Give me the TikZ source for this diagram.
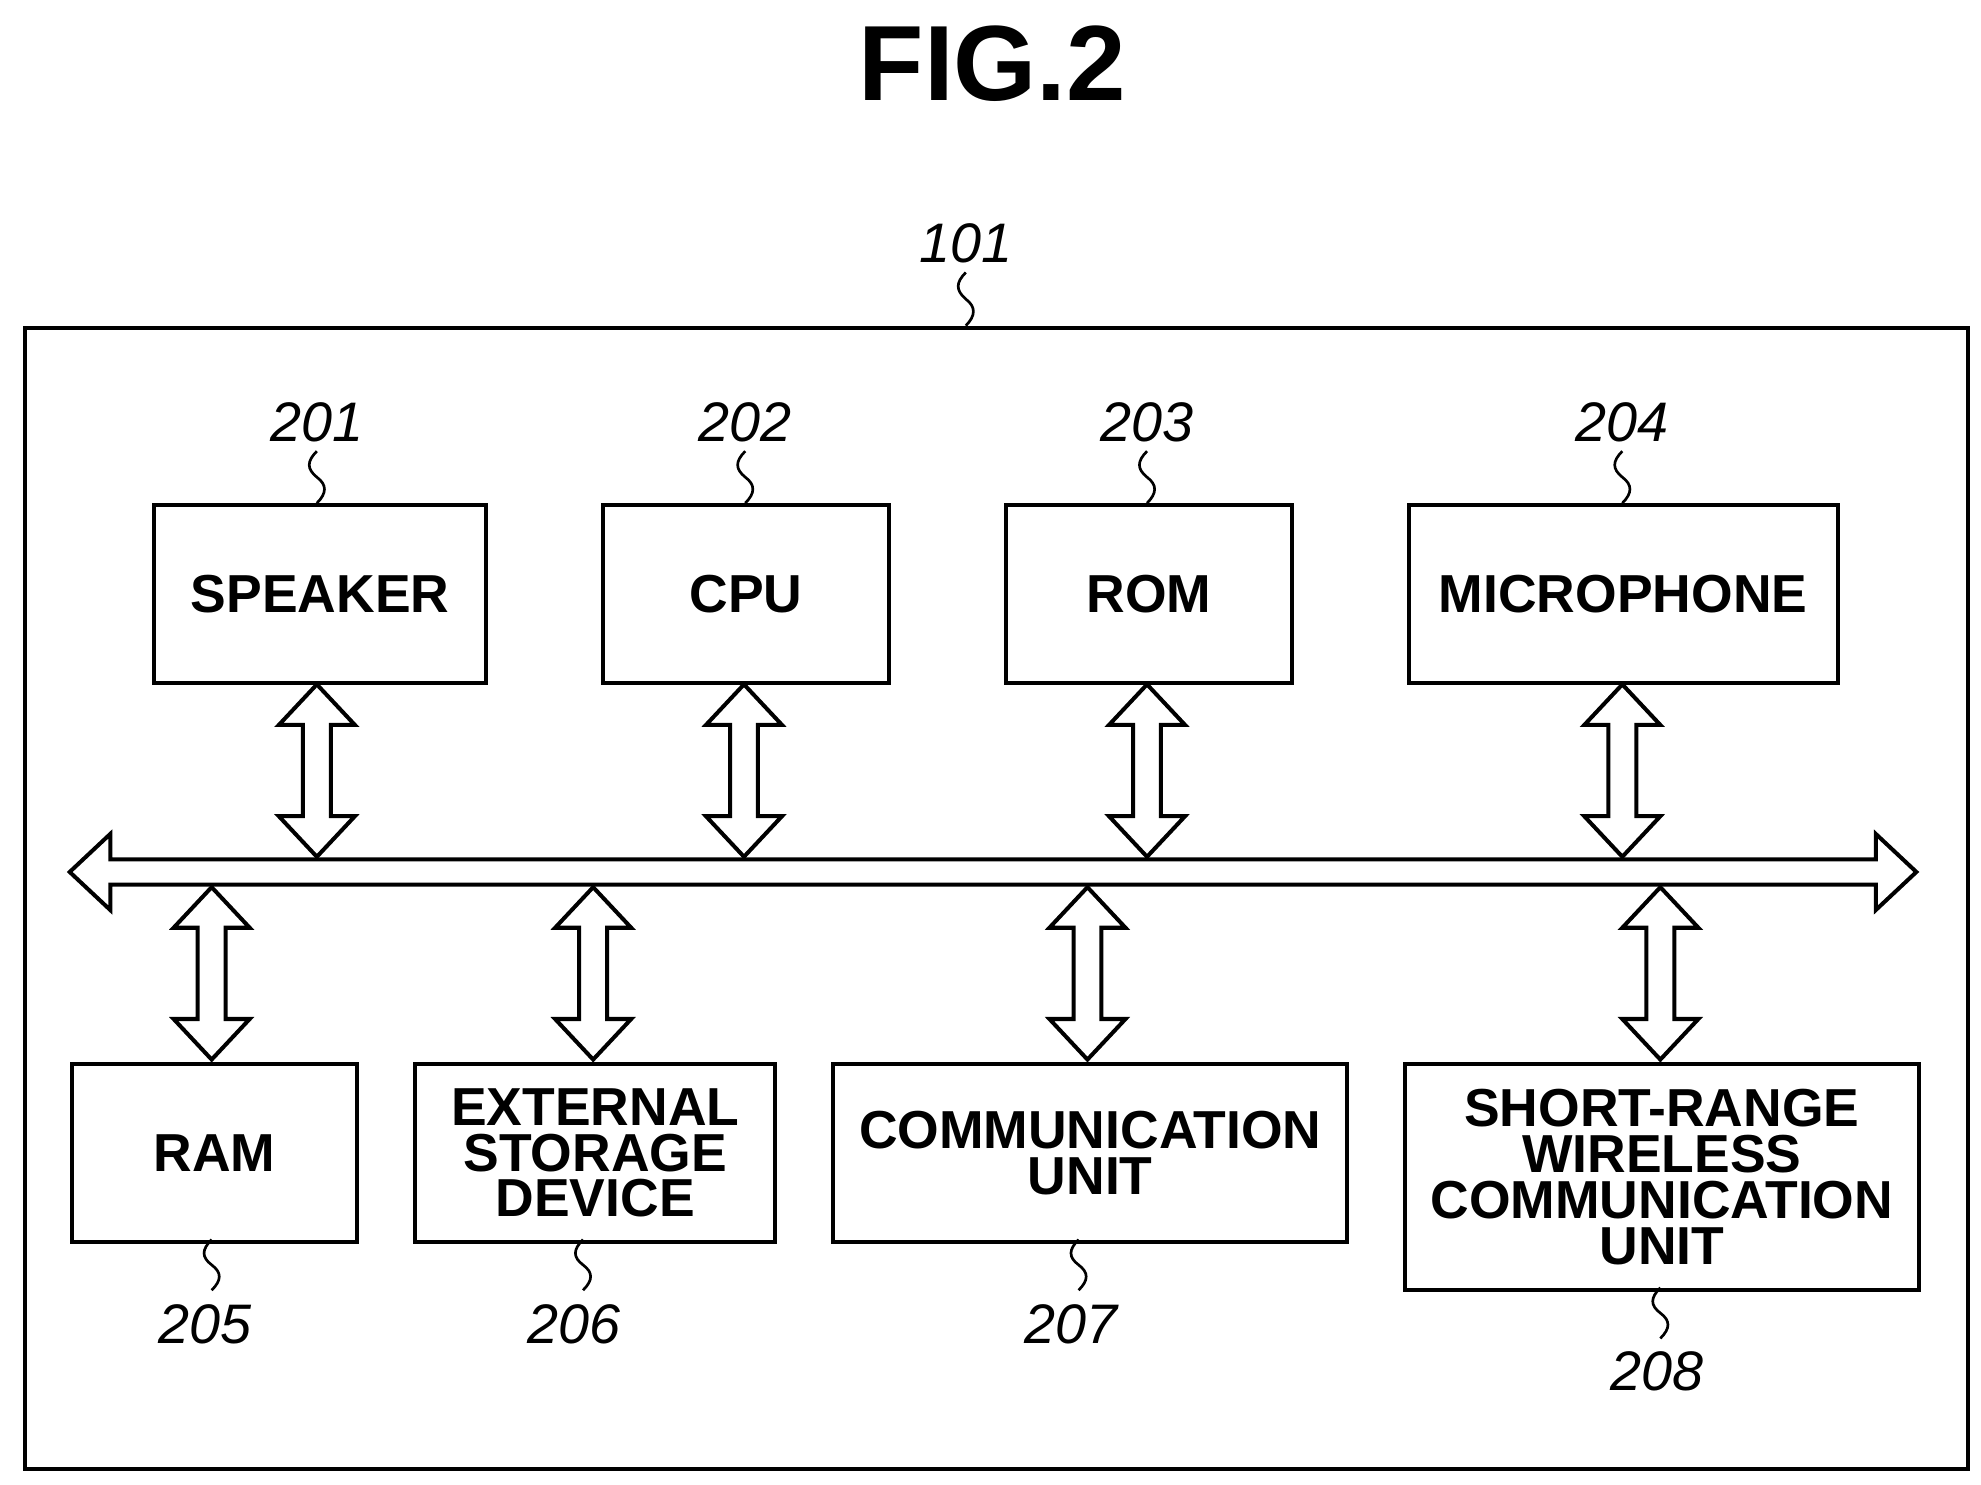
\documentclass[tikz,border=0pt]{standalone}
\usepackage{fontspec}
\setmainfont{Liberation Sans}
\begin{document}
\begin{tikzpicture}[x=0.01cm,y=-0.01cm,line width=0.9pt,
  box/.style={draw,inner sep=0pt,font=\bfseries\fontsize{12}{10.3}\selectfont,align=center},
  num/.style={font=\itshape\fontsize{12.5}{14}\selectfont},
  hol/.style={draw,fill=white,line width=0.9pt}]
\useasboundingbox (0,0) rectangle (1563,1171);
\newcommand\vdarr[3]{\draw[hol] ({#1},{#2})--({#1+30},{#2+32})--({#1+11},{#2+32})--({#1+11},{#3-32})--({#1+30},{#3-32})--({#1},{#3})--({#1-30},{#3-32})--({#1-11},{#3-32})--({#1-11},{#2+32})--({#1-30},{#2+32})--cycle;}
\newcommand\sq[3]{\draw[line width=0.6pt] ({#1},{#2}) .. controls ({#1-8},{#2+8}) and ({#1-8},{#2+14}) .. ({#1},{#2+0.5*(#3-#2)}) .. controls ({#1+8},{#2+0.5*(#3-#2)+6}) and ({#1+8},{#3-8}) .. ({#1},{#3});}
\node[font=\bfseries\fontsize{24}{26}\selectfont] (title) at (783,50) {FIG.2};
\node[draw,minimum width=15.32cm,minimum height=9cm,anchor=north west,inner sep=0pt] (outer) at (18,257) {};
\node[num] (n101) at (762,192) {101};
\sq{762}{215}{257}
% top boxes
\node[box,minimum width=2.62cm,minimum height=1.4cm,anchor=north west] (spk) at (120,397) {SPEAKER};
\node[box,minimum width=2.26cm,minimum height=1.4cm,anchor=north west] (cpu) at (474,397) {CPU};
\node[box,minimum width=2.26cm,minimum height=1.4cm,anchor=north west] (rom) at (792,397) {ROM};
\node[box,minimum width=3.38cm,minimum height=1.4cm,anchor=north west] (mic) at (1110,397) {MICROPHONE};
\node[num] (n201) at (250,333) {201}; \sq{250}{356}{397}
\node[num] (n202) at (588,333) {202}; \sq{588}{356}{397}
\node[num] (n203) at (905,333) {203}; \sq{905}{356}{397}
\node[num] (n204) at (1280,333) {204}; \sq{1280}{356}{397}
% bottom boxes
\node[box,minimum width=2.25cm,minimum height=1.4cm,anchor=north west] (ram) at (55,838) {RAM};
\node[box,minimum width=2.84cm,minimum height=1.4cm,anchor=north west] (ext) at (326,838) {EXTERNAL\\STORAGE\\DEVICE};
\node[box,minimum width=4.05cm,minimum height=1.4cm,anchor=north west] (com) at (656,838) {COMMUNICATION\\UNIT};
\node[box,minimum width=4.05cm,minimum height=1.78cm,anchor=north west] (srw) at (1107,838) {SHORT-RANGE\\WIRELESS\\COMMUNICATION\\UNIT};
\sq{167}{978}{1018} \node[num] (n205) at (162,1045) {205};
\sq{460}{978}{1018} \node[num] (n206) at (453,1045) {206};
\sq{851}{978}{1018} \node[num] (n207) at (845,1045) {207};
\sq{1310}{1016}{1056} \node[num] (n208) at (1307,1082) {208};
% bus
\draw[hol] (55,688)--(87,658)--(87,678)--(1480,678)--(1480,658)--(1512,688)--(1480,718)--(1480,698)--(87,698)--(87,718)--cycle;
\vdarr{250}{540}{676}
\vdarr{587}{540}{676}
\vdarr{905}{540}{676}
\vdarr{1280}{540}{676}
\vdarr{167}{700}{836}
\vdarr{468}{700}{836}
\vdarr{858}{700}{836}
\vdarr{1310}{700}{836}
\end{tikzpicture}
\end{document}
